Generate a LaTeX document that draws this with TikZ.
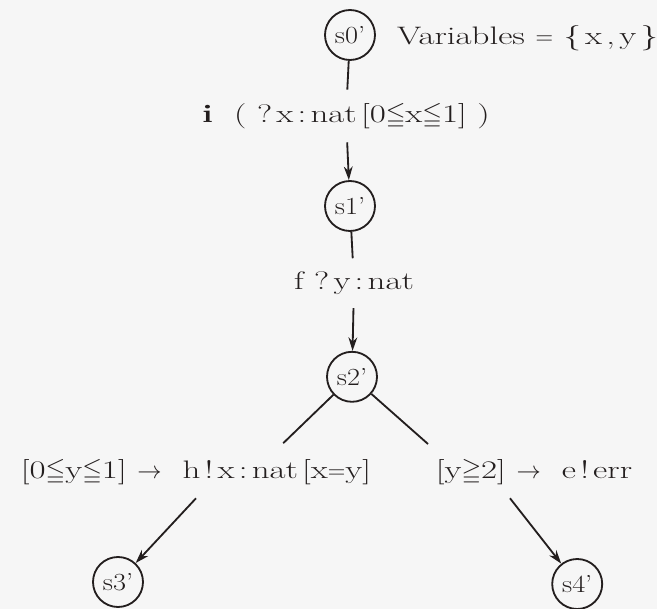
\documentclass[tikz,border=0pt]{standalone}
\usepackage{amsmath,amssymb}
\usepackage{fontspec}
\setmainfont{Latin Modern Roman}[FakeStretch=1.38]
\newfontfamily\statefont{Latin Modern Roman}[FakeStretch=1.15,Ligatures=TeX]
\usetikzlibrary{arrows.meta,calc}
\definecolor{paper}{RGB}{246,246,246}
\definecolor{ink}{RGB}{35,30,30}
\tikzset{
  state/.style={circle,draw=ink,line width=1.3pt,minimum size=1.25cm,
                inner sep=0pt,text=ink,font=\statefont\fontsize{17.5}{20}\selectfont},
  trans/.style={inner xsep=2pt,inner ysep=0.33cm,text=ink,
                font=\fontsize{18}{21}\selectfont},
}

\begin{document}
\begin{tikzpicture}[
      line/.style={draw=ink,line width=1.3pt},
      arrow/.style={draw=ink,line width=1.3pt,-{Stealth[length=0.34cm,width=0.22cm]}},
    ]

    \fill[paper] (0,0) rectangle (16.425,-15.225);
    \useasboundingbox (0,0) rectangle (16.425,-15.225);

    \node[state] (s0) at (8.75,-0.875)  {s0'};
    \node[trans,anchor=west,inner ysep=2pt] (vars) at (9.85,-0.95)
         {Variables $=$ \{\,x\,,\,y\,\}};
    \node[trans] (ti)  at (8.65,-2.9)   {\textbf{i}\ \ (\ ?\,x\,:\,nat\,[0$\leqq$x$\leqq$1]\ )};
    \node[state] (s1) at (8.75,-5.15)   {s1'};
    \node[trans] (tf)  at (8.85,-7.08)  {f\ ?\,y\,:\,nat};
    \node[state] (s2) at (8.8,-9.42)    {s2'};
    \node[trans] (th)  at (4.9,-11.8)   {[0$\leqq$y$\leqq$1]\ $\rightarrow$\ \ h\,!\,x\,:\,nat\,[x$=$y]};
    \node[trans] (te)  at (13.35,-11.8) {[y$\geqq$2]\ $\rightarrow$\ \ e\,!\,err};
    \node[state] (s3) at (2.95,-14.55)  {s3'};
    \node[state] (s4) at (14.43,-14.6)  {s4'};

    \coordinate (bl) at (7.08,-11.08);
    \coordinate (br) at (10.7,-11.1);

    % transitions
    \draw[line]  (s0) -- (ti);
    \draw[arrow] (ti) -- (s1);
    \draw[line]  (s1) -- (tf);
    \draw[arrow] (tf) -- (s2);
    \draw[line]  (s2) -- (bl);
    \draw[line]  (s2) -- (br);
    \draw[arrow] (th.south) -- (s3);
    \draw[arrow] ($(te.south)+(-0.6,0)$) -- (s4);

  \end{tikzpicture}
\end{document}
